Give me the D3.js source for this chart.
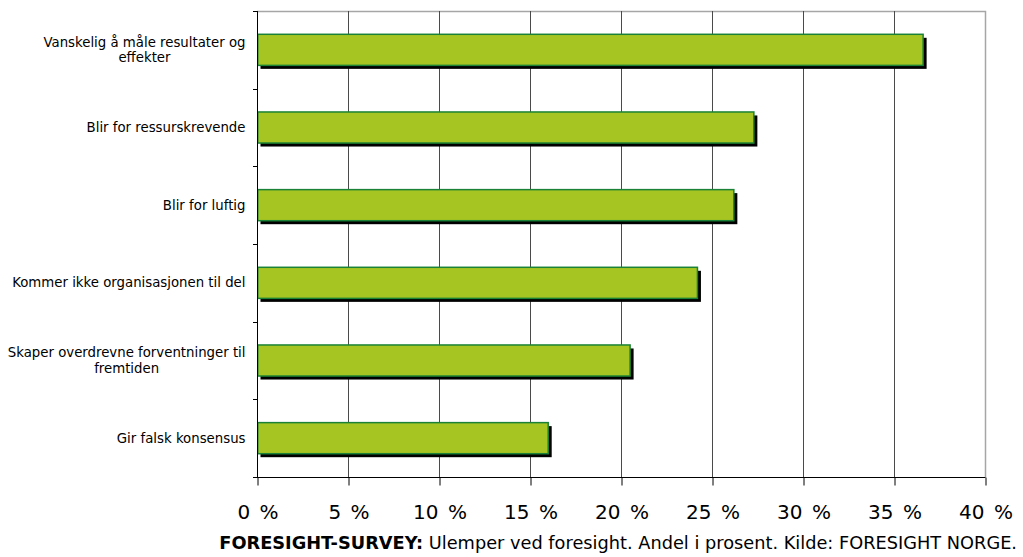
<!DOCTYPE html>
<html>
<head>
<meta charset="utf-8">
<script src="https://cdn.jsdelivr.net/npm/d3@7"></script>
<style>
  html, body { margin: 0; padding: 0; background: #fff; }
  svg { display: block; }
  text { font-family: "DejaVu Sans", Verdana, sans-serif; fill: #000; }
</style>
</head>
<body>
<svg id="chart" width="1023" height="557"></svg>
<script>
const categories = [
  "Vanskelig å måle resultater og\neffekter",
  "Blir for ressurskrevende",
  "Blir for luftig",
  "Kommer ikke organisasjonen til del",
  "Skaper overdrevne forventninger til\nfremtiden",
  "Gir falsk konsensus"
];
const values = [36.6, 27.3, 26.2, 24.2, 20.5, 16.0];
const xTicks = [0, 5, 10, 15, 20, 25, 30, 35, 40];
const xTickLabels = ["0 %", "5 %", "10 %", "15 %", "20 %", "25 %", "30 %", "35 %", "40 %"];
const captionBold = "FORESIGHT-SURVEY:";
const captionText = " Ulemper ved foresight. Andel i prosent. Kilde: FORESIGHT NORGE.";

const svg = d3.select("#chart");
const pLeft = 257, pRight = 985, pTop = 11, pBottom = 477;

const x = d3.scaleLinear().domain([0, 40]).range([pLeft, pRight]);
const y = d3.scaleBand().domain(categories).range([pTop, pBottom])
  .paddingInner(0.6).paddingOuter(0.3);
const step = y.step();

// plot border (top/right)
svg.append("path")
  .attr("d", `M${pLeft},${pTop + 0.5}H${pRight + 0.5}V${pBottom}`)
  .attr("fill", "none").attr("stroke", "#a6a6a6").attr("stroke-width", 1.5);

// vertical gridlines
svg.append("g").selectAll("line").data(xTicks.filter(d => d > 0 && d < 40)).join("line")
  .attr("x1", d => Math.round(x(d)) + 0.5).attr("x2", d => Math.round(x(d)) + 0.5)
  .attr("y1", pTop).attr("y2", pBottom)
  .attr("stroke", "#4a4a4a").attr("stroke-width", 1);

// bars: shadow then bar
const bars = svg.append("g");
bars.selectAll("rect.shadow").data(categories).join("rect")
  .attr("class", "shadow")
  .attr("x", x(0) + 3.5)
  .attr("y", d => y(d) + 3.5)
  .attr("width", (d, i) => x(values[i]) - x(0))
  .attr("height", y.bandwidth())
  .attr("fill", "#000");
bars.selectAll("rect.bar").data(categories).join("rect")
  .attr("class", "bar")
  .attr("x", x(0) + 0.75)
  .attr("y", d => y(d))
  .attr("width", (d, i) => x(values[i]) - x(0) - 0.75)
  .attr("height", y.bandwidth())
  .attr("fill", "#a7c522")
  .attr("stroke", "#1a8236").attr("stroke-width", 1.5);

// y axis line and tick marks at category boundaries
svg.append("line").attr("x1", pLeft + 0.5).attr("x2", pLeft + 0.5)
  .attr("y1", pTop).attr("y2", pBottom).attr("stroke", "#000");
const boundaries = d3.range(categories.length + 1).map(i => pTop + i * step);
svg.append("g").selectAll("line").data(boundaries).join("line")
  .attr("x1", pLeft - 4).attr("x2", pLeft)
  .attr("y1", d => Math.round(d) + 0.5).attr("y2", d => Math.round(d) + 0.5)
  .attr("stroke", "#000");

// x axis
const xAxis = d3.axisBottom(x).tickValues(xTicks).tickSize(8)
  .tickFormat((d, i) => xTickLabels[i]).tickSizeOuter(0);
const gx = svg.append("g").attr("transform", `translate(0.5,${pBottom + 0.5})`).call(xAxis);
gx.select(".domain").attr("stroke", "#000").attr("d", `M${pLeft - 4},0H${pRight}`);
gx.selectAll(".tick line").attr("stroke", "#000");
gx.selectAll(".tick text")
  .attr("y", 27.5)
  .style("font-family", '"DejaVu Sans", Verdana, sans-serif')
  .style("font-size", "20px")
  .style("word-spacing", "3px")
  .attr("fill", "#000");

// category labels: block right-aligned, lines centred within block
const labelRight = 245.5;
const labels = svg.append("g").selectAll("text").data(categories).join("text")
  .attr("text-anchor", "middle")
  .style("font-size", "13.3px");
labels.each(function(d) {
  const lines = d.split("\n");
  const cy = y(d) + y.bandwidth() / 2;
  const t = d3.select(this);
  const lh = 15.5;
  const startY = cy + 4.5 - (lines.length - 1) * lh / 2;
  const spans = lines.map((ln, i) =>
    t.append("tspan").attr("y", startY + i * lh).text(ln));
  const w = d3.max(spans, s => s.node().getComputedTextLength());
  spans.forEach(s => s.attr("x", labelRight - w / 2));
});

// caption
const cap = svg.append("text").attr("x", 1017).attr("y", 549)
  .attr("text-anchor", "end").style("font-size", "17.75px");
cap.append("tspan").style("font-weight", "bold").text(captionBold);
cap.append("tspan").text(captionText);
</script>
</body>
</html>
